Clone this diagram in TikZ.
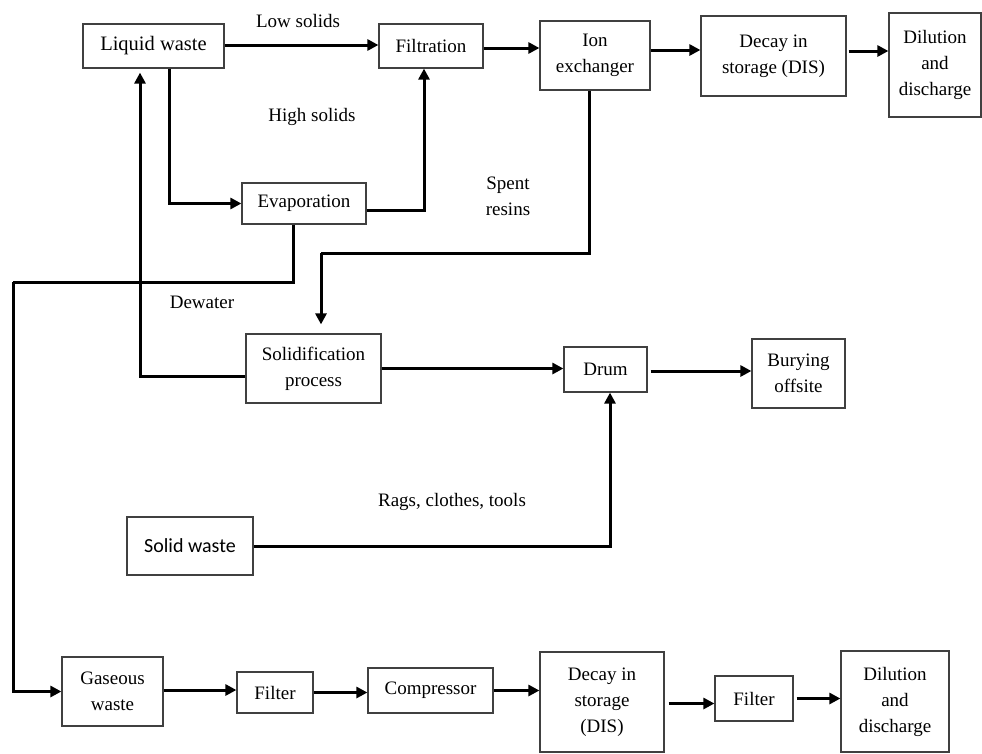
\documentclass[tikz,border=0pt]{standalone}
\usepackage{fontspec}
\setmainfont{Liberation Serif}
\newfontfamily\calfont{Carlito}
\usetikzlibrary{arrows.meta}
\tikzset{
  box/.style={draw=black!75, line width=1.2pt, rectangle, inner sep=0pt, align=center,
    font=\fontsize{19}{26}\selectfont, text=black},
  conn/.style={line width=3pt, -{Triangle[length=11pt,width=11pt]}},
  plain/.style={line width=3pt},
  lbl/.style={font=\fontsize{19}{26}\selectfont, align=center, text=black}
}
\begin{document}
\begin{tikzpicture}[x=1pt,y=-1pt]
\useasboundingbox (0,0) rectangle (982,753);
% top row
\node[box, minimum width=141pt, minimum height=44pt, font=\fontsize{20.5}{26}\selectfont] (lw) at (153.5,46) {Liquid waste};
\node[box, minimum width=104pt, minimum height=44pt] (filt) at (431,46) {Filtration};
\node[box, minimum width=110pt, minimum height=69pt] (ion) at (595,55.5) {Ion\\exchanger};
\node[box, minimum width=145pt, minimum height=80pt] (dis1) at (773.5,56) {Decay in\\storage (DIS)};
\node[box, minimum width=92pt, minimum height=104pt] (dil1) at (935,65) {Dilution\\and\\discharge};
\node[box, minimum width=124pt, minimum height=41pt] (evap) at (304,203.5) {Evaporation};
% middle
\node[box, minimum width=135pt, minimum height=69pt] (sol) at (313.5,368.5) {Solidification\\process};
\node[box, minimum width=83pt, minimum height=45pt] (drum) at (605.5,369.5) {Drum};
\node[box, minimum width=93pt, minimum height=69pt] (bury) at (798.5,373.5) {Burying\\offsite};
\node[box, minimum width=126pt, minimum height=58pt, font=\calfont\fontsize{20}{24}\selectfont] (solid) at (190,546) {Solid waste};
% bottom row
\node[box, minimum width=101pt, minimum height=69pt] (gas) at (112.5,691.5) {Gaseous\\waste};
\node[box, minimum width=76pt, minimum height=41pt] (filt2) at (275,692.5) {Filter};
\node[box, minimum width=125pt, minimum height=45pt] (comp) at (430.5,690.5) {Compressor};
\node[box, minimum width=124pt, minimum height=100pt] (dis2) at (602,702) {Decay in\\storage\\(DIS)};
\node[box, minimum width=78pt, minimum height=45pt] (filt3) at (754,698.5) {Filter};
\node[box, minimum width=108pt, minimum height=101pt] (dil2) at (895,701.5) {Dilution\\and\\discharge};
% labels
\node[lbl] (l1) at (298,21) {Low solids};
\node[lbl] (l2) at (312,117) {High solids};
\node[lbl] (l3) at (508,196) {Spent\\resins};
\node[lbl] (l4) at (202,302) {Dewater};
\node[lbl] (l5) at (452,502) {Rags, clothes, tools};
% helper coordinates
\coordinate (c1) at (13,282);
\coordinate (c2) at (321,253);
% connectors top
\draw[conn] ([yshift=1pt]lw.east) -- ([yshift=1pt]lw.east -| filt.west);
\draw[conn] ([yshift=-2pt]filt.east) -- ([yshift=-2pt]filt.east -| ion.west);
\draw[conn] ([yshift=5.5pt]ion.east) -- ([yshift=5.5pt]ion.east -| dis1.west);
\draw[conn] ([xshift=2pt,yshift=5pt]dis1.east) -- ([yshift=5pt]dis1.east -| dil1.west);
\draw[conn] ([xshift=15.5pt]lw.south) |- (evap.west);
\draw[conn] ([yshift=-6.5pt]evap.east) -| ([xshift=-7pt]filt.south);
\draw[plain] ([xshift=-11pt]evap.south) |- (c1);
\draw[conn] (c1) |- (gas.west);
\draw[plain] ([xshift=-6pt]ion.south) |- (c2);
\draw[conn, shorten >=9pt] (c2) -- (c2 |- sol.north);
\draw[conn, shorten >=4pt] ([yshift=-7.5pt]sol.west) -| ([xshift=-13.5pt]lw.south);
% middle
\draw[conn] (sol.east) -- (sol.east -| drum.west);
\draw[conn] ([xshift=3pt,yshift=-1.5pt]drum.east) -- ([yshift=-1.5pt]drum.east -| bury.west);
\draw[conn] (solid.east) -| ([xshift=4.5pt]drum.south);
% bottom
\draw[conn] ([yshift=1.5pt]gas.east) -- ([yshift=1.5pt]gas.east -| filt2.west);
\draw[conn] (filt2.east) -- (filt2.east -| comp.west);
\draw[conn] (comp.east) -- (comp.east -| dis2.west);
\draw[conn] ([xshift=4pt,yshift=-1.5pt]dis2.east) -- ([yshift=-1.5pt]dis2.east -| filt3.west);
\draw[conn] ([xshift=3pt]filt3.east) -- (filt3.east -| dil2.west);
\end{tikzpicture}
\end{document}
